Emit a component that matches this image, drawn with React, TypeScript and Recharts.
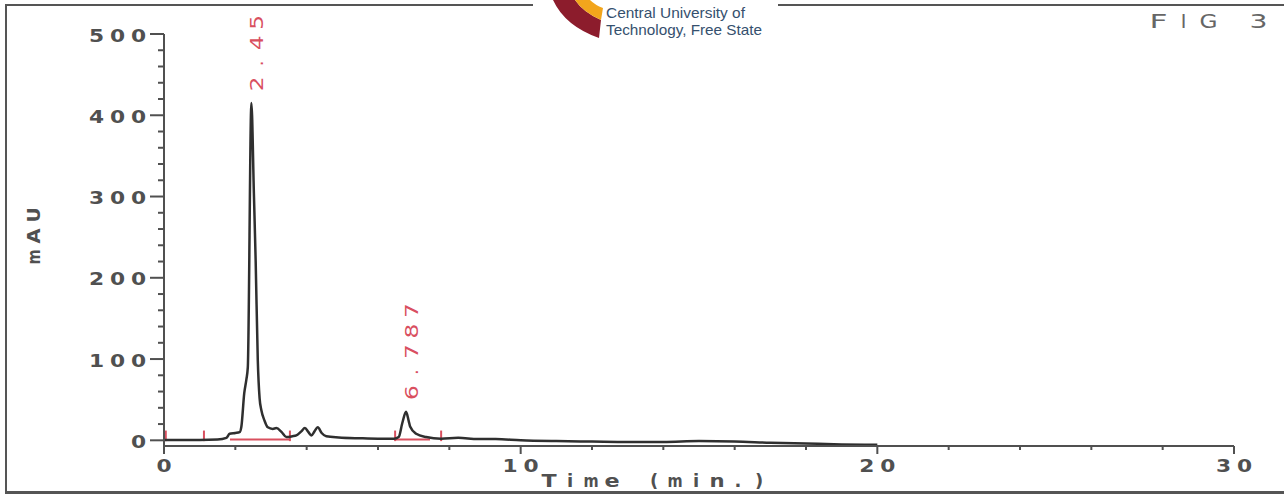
import { LineChart, Line, XAxis, YAxis, ReferenceLine, ReferenceDot } from "recharts";

// chromatogram trace: retention time (min) vs absorbance (mAU)
const timeMin = [
  0, 0.5, 1.0, 1.5, 1.75, 1.84, 2.0, 2.12, 2.17, 2.25, 2.31, 2.35, 2.45, 2.52, 2.57, 2.63, 2.68,
  2.73, 2.82, 2.91, 3.05, 3.15, 3.3, 3.43, 3.6, 3.71, 3.85, 3.95, 4.05, 4.13, 4.22, 4.31, 4.42,
  4.55, 4.9, 5.49, 6.0, 6.45, 6.58, 6.68, 6.787, 6.86, 6.9, 7.07, 7.35, 7.77, 8.25, 8.8, 9.3,
  10.0, 11.0, 12.0, 13.0, 14.0, 15.0, 16.0, 17.0, 18.0, 19.0, 20.0,
];
const mAU = [
  0.5, 0.5, 0.5, 1, 3, 8, 9, 10, 17, 58, 75, 90, 415, 304, 221, 98, 52,
  37, 24, 16, 14, 15, 10, 4, 5, 6, 11, 15, 10, 6, 11, 16, 9,
  5, 3.5, 2.5, 2, 2, 4, 21, 35, 24, 17, 8, 4, 2, 3, 1.5, 1.5,
  0, -1, -1.5, -2, -2, -1, -1.5, -3, -4, -5, -5.5,
];

const yTicks = [
  0, 20, 40, 60, 80, 100, 120, 140, 160, 180, 200, 220, 240, 260, 280, 300, 320, 340, 360, 380,
  400, 420, 440, 460, 480, 500,
];
const xTicks = [0, 2, 4, 6, 8, 10, 12, 14, 16, 18, 20, 22, 24, 26, 28, 30];

// integrator annotations
const peakTimes = [2.45, 6.787];
const peakHeights = [415, 35];
const peakLabels = ["2.45", "6.787"];
const eventTimes = [0.05, 1.12, 3.53, 6.48, 7.77];
const baselineStarts = [1.85, 6.48];
const baselineEnds = [3.53, 7.46];

const data = timeMin.map((t, i) => ({ t, v: mAU[i] }));

const ink = "#505050";
const red = "#d9505f";

// plotter lettering: every character sits in a fixed-pitch cell, wide glyphs stretched
function PlotText({
  x,
  y,
  text,
  anchor = "start",
  pitch = 21,
  fill = ink,
  weight = 700,
  size = 18,
  rotate = false,
}: {
  x: number;
  y: number;
  text: string;
  anchor?: "start" | "middle" | "end";
  pitch?: number;
  fill?: string;
  weight?: number;
  size?: number;
  rotate?: boolean;
}) {
  const total = text.length * pitch;
  const start = anchor === "start" ? x : anchor === "middle" ? x - total / 2 : x - total;
  const narrow = ".() ilI:";
  return (
    <g transform={rotate ? `rotate(-90 ${x} ${y})` : undefined}>
      {text.split("").map((c, i) =>
        c === " " ? null : (
          <text
            key={i}
            x={start + pitch * (i + 0.5)}
            y={y}
            textAnchor="middle"
            dominantBaseline="central"
            fill={fill}
            style={{ fontFamily: "'DejaVu Sans', sans-serif", fontSize: size, fontWeight: weight }}
            {...(narrow.includes(c) ? {} : { textLength: pitch * 0.72, lengthAdjust: "spacingAndGlyphs" })}
          >
            {c}
          </text>
        )
      )}
    </g>
  );
}

function YTick(props: any) {
  const { x, y, payload } = props;
  const major = payload.value % 100 === 0;
  return (
    <g>
      <line x1={x - (major ? 14 : 6)} x2={x} y1={y} y2={y} stroke={ink} strokeWidth={2} />
      {major && <PlotText x={x - 15} y={y + 1} text={String(payload.value)} anchor="end" />}
    </g>
  );
}

function XTick(props: any) {
  const { x, y, payload } = props;
  const major = payload.value % 10 === 0;
  return (
    <g>
      <line x1={x} x2={x} y1={y} y2={y + (major ? 8 : 4)} stroke={ink} strokeWidth={2} />
      {major && <PlotText x={x} y={y + 19} text={String(payload.value)} anchor="middle" />}
    </g>
  );
}

function PeakLabel(text: string) {
  return (p: any) => (
    <PlotText x={p.cx + 5} y={p.cy - 9} text={text} pitch={20.5} fill={red} weight={400} rotate />
  );
}

function Logo() {
  const font = { fontFamily: "'Liberation Sans Narrow', 'Liberation Sans', sans-serif", fontSize: 15 };
  return (
    <div style={{ position: "absolute", left: 533, top: 0, width: 245, height: 46, background: "#fff" }}>
      <svg width={245} height={46} style={{ position: "absolute", left: 0, top: 0 }}>
        <path d="M20 0 Q32 26 66 38 L68 20 Q50 12 42 0 Z" fill="#8c1c2c" />
        <path d="M42 0 Q50 12 68 20 L70 8 Q62 5 57 0 Z" fill="#f2a51c" />
        <text x={73} y={18} fill="#35506e" style={font} textLength={139} lengthAdjust="spacingAndGlyphs">
          Central University of
        </text>
        <text x={73} y={35} fill="#35506e" style={font} textLength={156} lengthAdjust="spacingAndGlyphs">
          Technology, Free State
        </text>
      </svg>
    </div>
  );
}

export default function App() {
  return (
    <div style={{ position: "absolute", left: 0, top: 0, width: 1284, height: 495, background: "#fff", overflow: "hidden" }}>
      {/* page frame */}
      <div
        style={{
          position: "absolute",
          left: 5,
          top: 4,
          width: 1290,
          height: 485,
          borderLeft: "2px solid #555",
          borderTop: "2px solid #555",
          borderBottom: "3px solid #555",
        }}
      />
      <div style={{ position: "absolute", left: 0, top: 0 }}>
        <LineChart width={1284} height={495} data={data} margin={{ top: 34, right: 50, bottom: 0, left: 0 }}>
          <XAxis
            dataKey="t"
            type="number"
            domain={[0, 30]}
            ticks={xTicks}
            height={49}
            tickSize={0}
            tickMargin={0}
            tickLine={false}
            axisLine={{ stroke: ink, strokeWidth: 2 }}
            tick={XTick}
            interval={0}
          />
          <YAxis
            type="number"
            domain={[-7, 500]}
            ticks={yTicks}
            width={164}
            tickSize={0}
            tickMargin={0}
            tickLine={false}
            axisLine={{ stroke: ink, strokeWidth: 2 }}
            tick={YTick}
            interval={0}
            allowDataOverflow
          />
          {baselineStarts.map((s, i) => (
            <ReferenceLine
              key={"b" + i}
              segment={[{ x: s, y: 1 }, { x: baselineEnds[i], y: 1 }]}
              stroke={red}
              strokeWidth={2}
            />
          ))}
          {eventTimes.map((t, i) => (
            <ReferenceLine
              key={"e" + i}
              segment={[{ x: t, y: -1 }, { x: t, y: 12 }]}
              stroke={red}
              strokeWidth={2}
            />
          ))}
          <Line
            type="monotone"
            dataKey="v"
            stroke="#2f2f2f"
            strokeWidth={2.5}
            dot={false}
            isAnimationActive={false}
          />
          {peakTimes.map((t, i) => (
            <ReferenceDot key={"p" + i} x={t} y={peakHeights[i]} r={1} shape={PeakLabel(peakLabels[i])} />
          ))}
        </LineChart>
      </div>
      <svg width={1284} height={495} style={{ position: "absolute", left: 0, top: 0, pointerEvents: "none" }}>
        <PlotText x={33} y={236} text="mAU" anchor="middle" rotate />
        <PlotText x={654} y={480} text="Time (min.)" anchor="middle" />
        <PlotText x={1146} y={21} text="FIG 3" pitch={25} fill="#666" weight={400} size={19} />
      </svg>
      <Logo />
    </div>
  );
}
